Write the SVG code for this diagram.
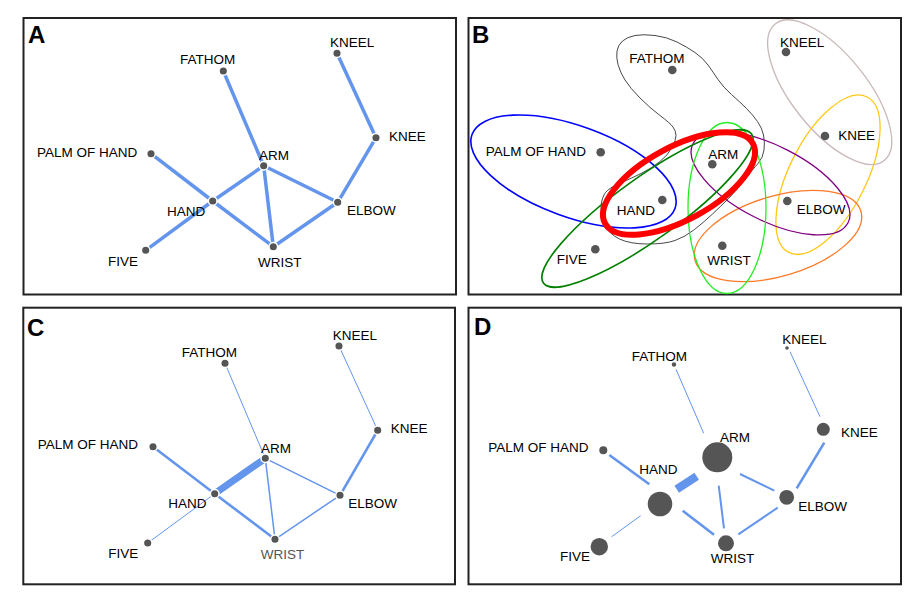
<svg xmlns="http://www.w3.org/2000/svg" width="915" height="600" viewBox="0 0 915 600">
<style>
.bg{fill:#fff}
.frame{fill:none;stroke:#222;stroke-width:2}
.title{font-family:"Liberation Sans",Arial,sans-serif;font-weight:bold;font-size:24px;fill:#000}
.lbl{font-family:"Liberation Sans",Arial,sans-serif;font-size:13.5px;fill:#000}
.gray{fill:#555}
.dot{fill:#555;stroke:#fff;stroke-width:1.5}
.dotd{fill:#555}
.e{stroke:#6495ED;fill:none;stroke-linecap:butt}
.w1{stroke-width:1}
.w15{stroke-width:1.5}
.w2{stroke-width:2}
.w25{stroke-width:2.6}
.w35{stroke-width:3.5}
.set{fill:none;stroke-width:1.3}
.blob{stroke:#333;stroke-width:0.9}
.thick{stroke-width:1.6}
.red{stroke:#ff0000;stroke-width:6}
</style>
<rect class="bg" x="0" y="0" width="915" height="600"/>

<!-- ================= PANEL A ================= -->
<g id="panelA">
<rect class="frame" x="23.5" y="18" width="432.5" height="276.5"/>
<text class="title" x="28" y="43">A</text>
<g id="a-edges" class="e w35">
<line x1="223.3" y1="71" x2="263.7" y2="165.7"/>
<line x1="337" y1="53.3" x2="376" y2="137.7"/>
<line x1="376" y1="137.7" x2="337.7" y2="202.3"/>
<line x1="151" y1="153.7" x2="212.7" y2="201"/>
<line x1="212.7" y1="201" x2="263.7" y2="165.7"/>
<line x1="212.7" y1="201" x2="145.7" y2="250.3"/>
<line x1="212.7" y1="201" x2="273.3" y2="246.7"/>
<line x1="263.7" y1="165.7" x2="273.3" y2="246.7"/>
<line x1="263.7" y1="165.7" x2="337.7" y2="202.3"/>
<line x1="337.7" y1="202.3" x2="273.3" y2="246.7"/>
</g>
<g id="a-kneel"><circle class="dot" cx="337" cy="53.3" r="4.3"/><text class="lbl" x="330" y="47">KNEEL</text></g>
<g id="a-fathom"><circle class="dot" cx="223.3" cy="71" r="4.3"/><text class="lbl" x="180" y="63.8">FATHOM</text></g>
<g id="a-knee"><circle class="dot" cx="376" cy="137.7" r="4.3"/><text class="lbl" x="389" y="140.8">KNEE</text></g>
<g id="a-palm"><circle class="dot" cx="151" cy="153.7" r="4.3"/><text class="lbl" x="37" y="156.5">PALM OF HAND</text></g>
<g id="a-arm"><circle class="dot" cx="263.7" cy="165.7" r="4.3"/><text class="lbl" x="259" y="159.8">ARM</text></g>
<g id="a-hand"><circle class="dot" cx="212.7" cy="201" r="4.3"/><text class="lbl" x="167" y="215.8">HAND</text></g>
<g id="a-elbow"><circle class="dot" cx="337.7" cy="202.3" r="4.3"/><text class="lbl" x="347" y="214.8">ELBOW</text></g>
<g id="a-five"><circle class="dot" cx="145.7" cy="250.3" r="4.3"/><text class="lbl" x="108" y="265.5">FIVE</text></g>
<g id="a-wrist"><circle class="dot" cx="273.3" cy="246.7" r="4.3"/><text class="lbl" x="258" y="266.5">WRIST</text></g>
</g>

<!-- ================= PANEL B ================= -->
<g id="panelB">
<rect class="frame" x="468.5" y="18" width="432.5" height="276.5"/>
<text class="title" x="472" y="43">B</text>
<g id="b-sets">
<path class="set blob" d="M618,64.5 Q616,57 617,51 Q618,45 622.5,41 Q627,37 635,35.5 Q643,34 655,35.5 Q667,37 677,42 Q687,47 695,52.5 Q703,58 708,65 Q713,72 718,79.5 Q723,87 731.5,94.5 Q740,102 746.5,108.5 Q753,115 757.5,121.5 Q762,128 763.5,135 Q765,142 764,150 Q763,158 758,163.5 Q753,169 744.5,180 Q736,191 728.5,198.5 Q721,206 712.5,214 Q704,222 694.5,229.5 Q685,237 675,240.5 Q665,244 647.5,244 Q630,244 619.5,239 Q609,234 604.5,224.5 Q600,215 601,206 Q602,197 605.5,192.5 Q609,188 620.5,183 Q632,178 642,173 Q652,168 660,161.5 Q668,155 672,147.5 Q676,140 676,135.5 Q676,131 673,127 Q670,123 660,115.5 Q650,108 640,98 Q630,88 625,80 Q620,72 618,64.5 Z"/>
<ellipse class="set" stroke="#c9b9b9" cx="829.7" cy="92.2" rx="87.4" ry="37.7" transform="rotate(51.4 829.7 92.2)"/>
<ellipse class="set" stroke="#ffc814" cx="828" cy="174.7" rx="87" ry="38.5" transform="rotate(-63.3 828 174.7)"/>
<ellipse class="set" stroke="#ff7a28" cx="778" cy="236" rx="86.5" ry="40" transform="rotate(-16.6 778 236)"/>
<ellipse class="set" stroke="#800080" cx="770.5" cy="183.3" rx="87" ry="37.3" transform="rotate(27 770.5 183.3)"/>
<ellipse class="set" stroke="#22ee22" cx="727" cy="208" rx="39" ry="85.5"/>
<ellipse class="set thick" stroke="#0000ff" cx="573.5" cy="171.5" rx="108" ry="45.5" transform="rotate(20 573.5 171.5)"/>
<ellipse class="set thick" stroke="#008000" cx="647.5" cy="208.5" rx="128" ry="31" transform="rotate(-35.6 647.5 208.5)"/>
<ellipse class="set red" cx="679" cy="183.5" rx="84" ry="36.5" transform="rotate(-28.35 679 183.5)"/>
</g>
<g id="b-kneel"><circle class="dotd" cx="786" cy="52" r="4.3"/><text class="lbl" x="780" y="46.5">KNEEL</text></g>
<g id="b-fathom"><circle class="dotd" cx="672.3" cy="70" r="4.3"/><text class="lbl" x="629.3" y="63">FATHOM</text></g>
<g id="b-knee"><circle class="dotd" cx="825" cy="136" r="4.3"/><text class="lbl" x="838.3" y="139.8">KNEE</text></g>
<g id="b-palm"><circle class="dotd" cx="600.7" cy="152.3" r="4.3"/><text class="lbl" x="485.7" y="155.5">PALM OF HAND</text></g>
<g id="b-arm"><circle class="dotd" cx="712.3" cy="164.3" r="4.3"/><text class="lbl" x="708.3" y="159">ARM</text></g>
<g id="b-hand"><circle class="dotd" cx="662.3" cy="200" r="4.3"/><text class="lbl" x="616.7" y="214.8">HAND</text></g>
<g id="b-elbow"><circle class="dotd" cx="787.3" cy="201" r="4.3"/><text class="lbl" x="796.7" y="213.8">ELBOW</text></g>
<g id="b-five"><circle class="dotd" cx="595.3" cy="249.3" r="4.3"/><text class="lbl" x="556.7" y="264">FIVE</text></g>
<g id="b-wrist"><circle class="dotd" cx="722.3" cy="245.7" r="4.3"/><text class="lbl" x="707.3" y="264.8">WRIST</text></g>
</g>

<!-- ================= PANEL C ================= -->
<g id="panelC">
<rect class="frame" x="23.3" y="307.7" width="431.7" height="276.6"/>
<text class="title" x="27" y="336">C</text>
<g id="c-edges" class="e">
<line class="w1" x1="225" y1="363.3" x2="265.3" y2="458.3"/>
<line class="w1" x1="339" y1="346" x2="377.7" y2="430.3"/>
<line class="w25" x1="377.7" y1="430.3" x2="340" y2="495.3"/>
<line class="w25" x1="153" y1="446.7" x2="214.7" y2="493.7"/>
<line style="stroke-width:7" x1="214.7" y1="493.7" x2="265.3" y2="458.3"/>
<line class="w1" x1="214.7" y1="493.7" x2="147.7" y2="543"/>
<line class="w25" x1="214.7" y1="493.7" x2="275" y2="539.3"/>
<line class="w15" x1="265.3" y1="458.3" x2="275" y2="539.3"/>
<line class="w15" x1="265.3" y1="458.3" x2="340" y2="495.3"/>
<line class="w15" x1="340" y1="495.3" x2="275" y2="539.3"/>
</g>
<g id="c-kneel"><circle class="dot" cx="339" cy="346" r="4.3"/><text class="lbl" x="332.7" y="339.8">KNEEL</text></g>
<g id="c-fathom"><circle class="dot" cx="225" cy="363.3" r="4.3"/><text class="lbl" x="181.7" y="357">FATHOM</text></g>
<g id="c-knee"><circle class="dot" cx="377.7" cy="430.3" r="4.3"/><text class="lbl" x="390.7" y="433">KNEE</text></g>
<g id="c-palm"><circle class="dot" cx="153" cy="446.7" r="4.3"/><text class="lbl" x="37.7" y="449">PALM OF HAND</text></g>
<g id="c-arm"><circle class="dot" cx="265.3" cy="458.3" r="4.3"/><text class="lbl" x="261" y="452.5">ARM</text></g>
<g id="c-hand"><circle class="dot" cx="214.7" cy="493.7" r="4.3"/><text class="lbl" x="168.3" y="508">HAND</text></g>
<g id="c-elbow"><circle class="dot" cx="340" cy="495.3" r="4.3"/><text class="lbl" x="348.3" y="507.5">ELBOW</text></g>
<g id="c-five"><circle class="dot" cx="147.7" cy="543" r="4.3"/><text class="lbl" x="108.3" y="558">FIVE</text></g>
<g id="c-wrist"><circle class="dot" cx="275" cy="539.3" r="4.3"/><text class="lbl gray" x="260.7" y="558.8">WRIST</text></g>
</g>

<!-- ================= PANEL D ================= -->
<g id="panelD">
<rect class="frame" x="468.5" y="307.7" width="432.5" height="276.6"/>
<text class="title" x="474" y="335">D</text>
<g id="d-edges" class="e">
<line class="w1" x1="676" y1="369.3" x2="703.7" y2="433.3"/>
<line class="w1" x1="790" y1="351.7" x2="820" y2="416.7"/>
<line class="w25" x1="824.3" y1="442.7" x2="796.7" y2="488.3"/>
<line class="w25" x1="609.3" y1="455" x2="649.3" y2="484.3"/>
<line class="w1" x1="611.7" y1="536.7" x2="640.7" y2="515.7"/>
<line style="stroke-width:8.3" x1="676.7" y1="489.2" x2="696.7" y2="476.3"/>
<line class="w25" x1="682.7" y1="510.7" x2="714" y2="534.7"/>
<line class="w2" x1="718.7" y1="485.7" x2="724" y2="528.3"/>
<line class="w2" x1="740" y1="474" x2="774.3" y2="490.7"/>
<line class="w2" x1="738.3" y1="534.3" x2="777.7" y2="507.7"/>
</g>
<g id="d-kneel"><circle class="dotd" cx="787" cy="348" r="1.8"/><text class="lbl" x="782.3" y="344">KNEEL</text></g>
<g id="d-fathom"><circle class="dotd" cx="674" cy="364.5" r="2.2"/><text class="lbl" x="631.7" y="360.8">FATHOM</text></g>
<g id="d-knee"><circle class="dotd" cx="823.3" cy="429.3" r="6.5"/><text class="lbl" x="841" y="437">KNEE</text></g>
<g id="d-palm"><circle class="dotd" cx="603.3" cy="450.3" r="4"/><text class="lbl" x="488.3" y="451.5">PALM OF HAND</text></g>
<g id="d-arm"><circle class="dotd" cx="717.3" cy="457.3" r="15"/><text class="lbl" x="720" y="441.5">ARM</text></g>
<g id="d-hand"><circle class="dotd" cx="660" cy="504" r="12.3"/><text class="lbl" x="639.3" y="474">HAND</text></g>
<g id="d-elbow"><circle class="dotd" cx="786.7" cy="497.3" r="7.4"/><text class="lbl" x="798.3" y="510.8">ELBOW</text></g>
<g id="d-five"><circle class="dotd" cx="599.3" cy="546.7" r="8.7"/><text class="lbl" x="560" y="560.8">FIVE</text></g>
<g id="d-wrist"><circle class="dotd" cx="726" cy="543.3" r="8"/><text class="lbl" x="710.7" y="562.5">WRIST</text></g>
</g>
</svg>
